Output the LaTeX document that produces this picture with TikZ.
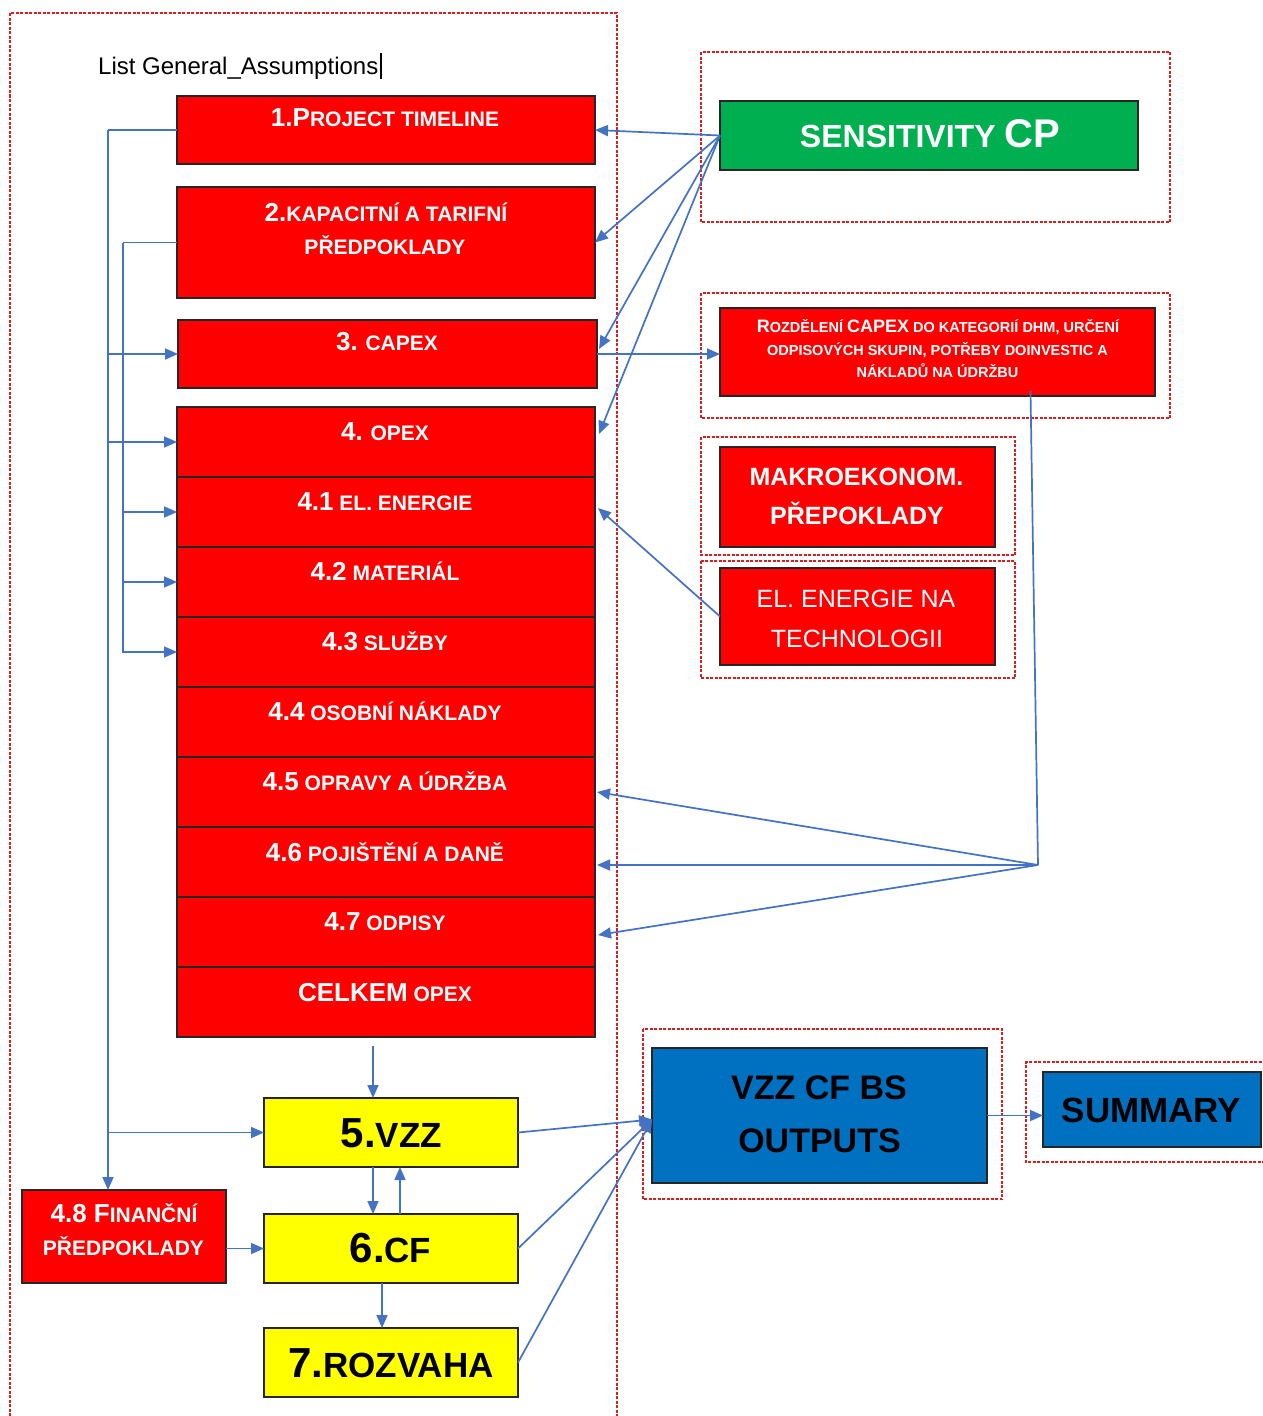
\documentclass[tikz,border=0pt]{standalone}
\usepackage{fontspec}
\setmainfont{Liberation Sans}
\usetikzlibrary{arrows.meta,calc}
\definecolor{arrowblue}{HTML}{4472C4}
\definecolor{boxred}{HTML}{FF0000}
\definecolor{boxgreen}{HTML}{00B050}
\definecolor{boxblue}{HTML}{0070C0}
\definecolor{boxyellow}{HTML}{FFFF00}
\definecolor{framered}{HTML}{D42020}
\newcommand\fs[1]{\fontsize{#1}{#1}\selectfont}
\begin{document}
\begin{tikzpicture}[x=1pt,y=-1pt,
  shapebox/.style={draw=black!85,line width=2pt,inner sep=0pt,outer sep=0pt},
  redbox/.style={shapebox,fill=boxred},
  yelbox/.style={shapebox,fill=boxyellow},
  bluebox/.style={shapebox,fill=boxblue},
  greenbox/.style={shapebox,fill=boxgreen},
  frame/.style={draw=framered,line width=1.1pt,dash pattern=on 3pt off 1.5pt},
  conn/.style={draw=arrowblue,line width=1.7pt},
  arr/.style={conn,-{Triangle[length=13pt,width=11pt]}},
  wt/.style={text=white,font=\bfseries,anchor=base,inner sep=0pt},
  wr/.style={text=white,anchor=base,inner sep=0pt},
  bt/.style={text=black,font=\bfseries,anchor=base,inner sep=0pt}]
\useasboundingbox (0,0) rectangle (1263,1416);
\fill[white] (0,0) rectangle (1263,1416);

% frames
\draw[frame] (10,1425) -- (10,13) -- (617,13) -- (617,1425);
\draw[frame] (701,52) rectangle (1170,222);
\draw[frame] (701,293) rectangle (1170,418);
\draw[frame] (701,437) rectangle (1015,555);
\draw[frame] (701,561) rectangle (1015,678);
\draw[frame] (643,1029) rectangle (1002,1199);
\draw[frame] (1275,1062) -- (1026,1062) -- (1026,1162) -- (1275,1162);

% title
\node[anchor=base west,inner sep=0pt,font=\fs{24}] (title) at (98,74) {List General\_Assumptions};
\draw[line width=1.2pt] (381,53) -- (381,79);

% left column boxes
\node[redbox,minimum width=418,minimum height=68] (b1) at (386,130) {};
\node[redbox,minimum width=418,minimum height=111] (b2) at (386,242.5) {};
\node[redbox,minimum width=419,minimum height=68] (b3) at (387.5,354) {};
\foreach \i in {0,...,8}{
  \node[redbox,minimum width=418,minimum height=70] (o\i) at (386,{442+70*\i}) {};
}
\node[redbox,minimum width=204,minimum height=93] (f48) at (124,1236.5) {};
\node[yelbox,minimum width=254,minimum height=69] (y5) at (391,1132.5) {};
\node[yelbox,minimum width=254,minimum height=69] (y6) at (391,1248.5) {};
\node[yelbox,minimum width=254,minimum height=69] (y7) at (391,1362.5) {};

% right column boxes
\node[greenbox,minimum width=418,minimum height=69] (sens) at (929,135.5) {};
\node[redbox,minimum width=435,minimum height=88] (roz) at (937.5,352) {};
\node[redbox,minimum width=275,minimum height=100] (mak) at (857.5,497) {};
\node[redbox,minimum width=275,minimum height=97] (ele) at (857.5,616.5) {};
\node[bluebox,minimum width=335,minimum height=135] (out) at (819.5,1115.5) {};
\node[bluebox,minimum width=218,minimum height=75] (sum) at (1152,1109.5) {};

% texts
\node[wt] (t1) at (385,126) {\fs{26}1.P\fs{21}ROJECT TIMELINE};
\node[wt] (t2a) at (386,221) {\fs{26}2.\fs{21}KAPACITNÍ A TARIFNÍ};
\node[wt] (t2b) at (385,254) {\fs{21}PŘEDPOKLADY};
\node[wt] (t3) at (387,350) {\fs{26}3.\fs{21} CAPEX};
\node[wt] (t40) at (385,440) {\fs{26}4.\fs{21} OPEX};
\node[wt] (t41) at (385,510) {\fs{26}4.1\fs{21} EL. ENERGIE};
\node[wt] (t42) at (385,580) {\fs{26}4.2\fs{21} MATERIÁL};
\node[wt] (t43) at (385,650) {\fs{26}4.3\fs{21} SLUŽBY};
\node[wt] (t44) at (385,720) {\fs{26}4.4\fs{21} OSOBNÍ NÁKLADY};
\node[wt] (t45) at (385,790) {\fs{26}4.5\fs{21} OPRAVY A ÚDRŽBA};
\node[wt] (t46) at (385,861) {\fs{26}4.6\fs{21} POJIŠTĚNÍ A DANĚ};
\node[wt] (t47) at (385,930) {\fs{26}4.7\fs{21} ODPISY};
\node[wt] (t48) at (385,1001) {\fs{26}CELKEM\fs{21} OPEX};
\node[wt] (tf1) at (124,1222) {\fs{26}4.8 F\fs{21}INANČNÍ};
\node[wt] (tf2) at (123.5,1255) {\fs{21}PŘEDPOKLADY};
\node[bt] (ty5) at (391.5,1147) {\fs{42}5.\fs{35}VZZ};
\node[bt] (ty6) at (390.5,1262) {\fs{42}6.\fs{35}CF};
\node[bt] (ty7) at (391,1377) {\fs{42}7.\fs{35}ROZVAHA};
\node[wt] (ts) at (930,147) {\fs{32}SENSITIVITY \fs{40}CP};
\node[wt] (tr1) at (938,332) {\fs{18}R\fs{14.5}OZDĚLENÍ \fs{18}CAPEX\fs{14.5} DO KATEGORIÍ DHM, URČENÍ};
\node[wt] (tr2) at (937.5,355) {\fs{14.5}ODPISOVÝCH SKUPIN, POTŘEBY DOINVESTIC A};
\node[wt] (tr3) at (937.5,377) {\fs{14.5}NÁKLADŮ NA ÚDRŽBU};
\node[wt] (tm1) at (856.5,485) {\fs{25}MAKROEKONOM.};
\node[wt] (tm2) at (857,524) {\fs{25}PŘEPOKLADY};
\node[wr] (te1) at (856,607) {\fs{25}EL. ENERGIE NA};
\node[wr] (te2) at (857,647) {\fs{25}TECHNOLOGII};
\node[bt] (to1) at (819,1099) {\fs{34}VZZ CF BS};
\node[bt] (to2) at (819.5,1152) {\fs{34}OUTPUTS};
\node[bt] (tsum) at (1151.5,1122) {\fs{35}SUMMARY};

% left feed lines
\draw[conn] (b1.west) -- ++(-69,0) coordinate (L1);
\draw[arr] (L1) -- (L1 |- f48.north);
\draw[arr] (L1 |- b3.west) -- (b3.west);
\draw[arr] (L1 |- o0.west) -- (o0.west);
\draw[arr] (L1 |- y5.west) -- (y5.west);
\draw[conn] (b2.west) -- ++(-54,0) coordinate (L2);
\draw[arr] (L2) |- (o3.west);
\draw[arr] (L2 |- o1.west) -- (o1.west);
\draw[arr] (L2 |- o2.west) -- (o2.west);

% sensitivity fan
\draw[arr] (sens.west) -- (b1.east);
\draw[arr] (sens.west) -- (b2.east);
\draw[arr] (sens.west) -- ($(b3.east)+(2,-5)$);
\draw[arr] (sens.west) -- ($(o0.east)+(4,-8)$);

% capex to rozdeleni
\draw[arr] (b3.east) -- (b3.east -| roz.west);

% rozdeleni fan
\coordinate (J) at (1038,865);
\draw[conn] ([xshift=93pt,yshift=5pt]roz.south) -- (J);
\draw[arr] (J) -- ($(o5.east)+(2,0)$);
\draw[arr] (J) -- ($(o6.east)+(2,3)$);
\draw[arr] (J) -- ($(o7.east)+(3,3)$);

% el energie
\draw[arr] (ele.west) -- ($(o1.east)+(3,-4)$);

% yellow flow
\coordinate (v1) at ($(o8.south)+(-13,9)$);
\draw[arr] (v1) -- (v1 |- y5.north);
\draw[arr] ($(y5.south)+(-18,0)$) -- ($(y6.north)+(-18,0)$);
\draw[arr] ($(y6.north)+(9,0)$) -- ($(y5.south)+(9,0)$);
\draw[arr] ($(y6.south)+(-9,0)$) -- ($(y7.north)+(-9,0)$);
\draw[arr] (f48.east |- y6.west) -- (y6.west);

% outputs
\coordinate (oin) at ($(out.west)+(0,4)$);
\draw[arr] (y5.east) -- (oin);
\draw[arr] (y6.east) -- (oin);
\draw[arr] (y7.east) -- (oin);
\draw[arr] (out.east) -- (out.east -| sum.west);
\end{tikzpicture}
\end{document}
